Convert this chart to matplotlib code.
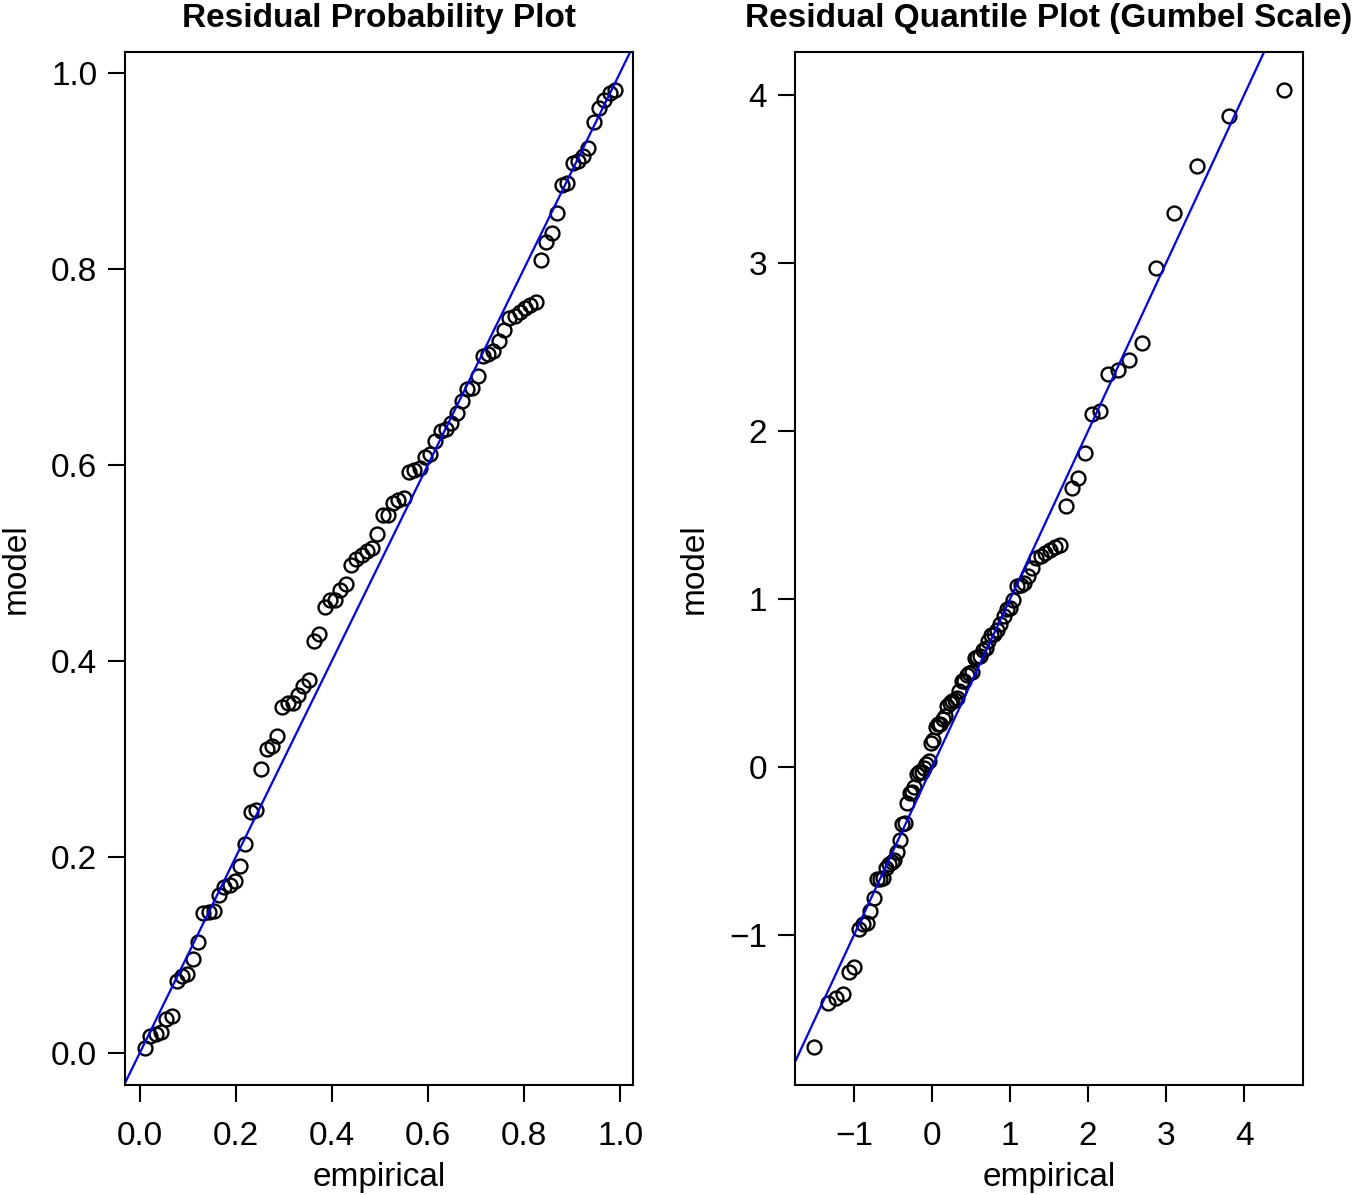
import matplotlib
matplotlib.use("Agg")
import matplotlib.pyplot as plt
import numpy as np

plt.rcParams['font.family'] = ['Liberation Sans', 'DejaVu Sans']

# model probabilities of the sorted residuals
model = [0.005, 0.017, 0.019, 0.021, 0.034, 0.037, 0.073, 0.078, 0.080, 0.095,
         0.113, 0.142, 0.143, 0.144, 0.161, 0.169, 0.171, 0.175, 0.190, 0.213,
         0.245, 0.248, 0.289, 0.310, 0.313, 0.323, 0.353, 0.357, 0.357, 0.365,
         0.374, 0.380, 0.420, 0.427, 0.455, 0.462, 0.462, 0.472, 0.478, 0.498,
         0.504, 0.508, 0.512, 0.515, 0.529, 0.549, 0.549, 0.561, 0.564, 0.566,
         0.592, 0.594, 0.597, 0.608, 0.611, 0.624, 0.634, 0.636, 0.642, 0.653,
         0.665, 0.677, 0.678, 0.690, 0.711, 0.713, 0.716, 0.726, 0.737, 0.750,
         0.752, 0.756, 0.760, 0.763, 0.766, 0.809, 0.827, 0.836, 0.857, 0.885,
         0.887, 0.908, 0.910, 0.915, 0.923, 0.950, 0.9638, 0.9725, 0.9794, 0.9824]
model = np.array(model)
n = len(model)
# plotting positions i/(n+1)
empirical = np.arange(1, n + 1) / (n + 1)

left_ticks = [0.0, 0.2, 0.4, 0.6, 0.8, 1.0]
right_ticks = [-1, 0, 1, 2, 3, 4]

fig = plt.figure(figsize=(13.53, 11.95), dpi=100)
ax1 = fig.add_axes([0.0924, 0.0921, 0.3755, 0.8644])
ax2 = fig.add_axes([0.5876, 0.0921, 0.3755, 0.8644])

def style(ax):
    for s in ax.spines.values():
        s.set_linewidth(1.5)
    ax.tick_params(direction='out', length=12, width=1.5, labelsize=24, pad=8)
    ax.tick_params(axis='x', pad=14)

# probability plot
ax1.plot(empirical, model, 'o', mfc='none', mec='black', ms=10, mew=1.7)
ax1.axline((0, 0), slope=1, color='#0000ff', lw=1.6)
ax1.set_xlim(-0.031, 1.027)
ax1.set_ylim(-0.033, 1.021)
ax1.set_xticks(left_ticks)
ax1.set_yticks(left_ticks)
ax1.set_xticklabels(['%.1f' % t for t in left_ticks])
ax1.set_yticklabels(['%.1f' % t for t in left_ticks])
style(ax1)
ax1.set_title('Residual Probability Plot', fontsize=24, fontweight='bold', pad=18)
ax1.set_xlabel('empirical', fontsize=24, labelpad=7)
ax1.set_ylabel('model', fontsize=24, labelpad=14)

# quantile plot on Gumbel scale
gx = -np.log(-np.log(empirical))
gy = -np.log(-np.log(model))
ax2.plot(gx, gy, 'o', mfc='none', mec='black', ms=10, mew=1.7)
ax2.axline((0, 0), slope=1, color='#0000ff', lw=1.6)
ax2.set_xlim(-1.756, 4.756)
ax2.set_ylim(-1.893, 4.256)
ax2.set_xticks(right_ticks)
ax2.set_yticks(right_ticks)
style(ax2)
ax2.set_title('Residual Quantile Plot (Gumbel Scale)', fontsize=24, fontweight='bold', pad=18)
ax2.set_xlabel('empirical', fontsize=24, labelpad=7)
ax2.set_ylabel('model', fontsize=24, labelpad=14)

fig.savefig('out.png', dpi=100)
plt.close(fig)
